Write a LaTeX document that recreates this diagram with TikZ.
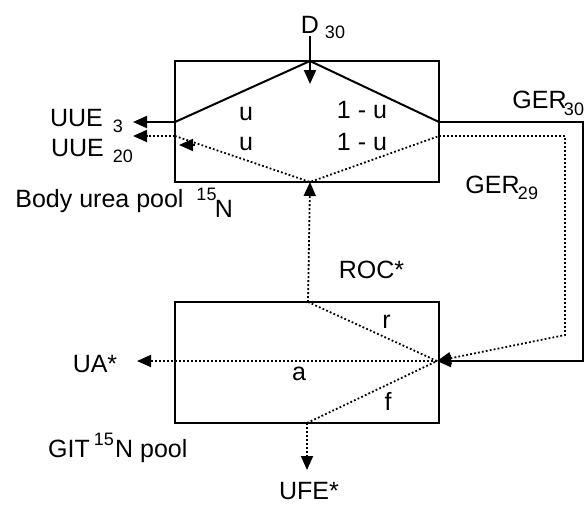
\documentclass[tikz,border=0pt]{standalone}
\usepackage{fontspec}
\setmainfont{Liberation Sans}
\usetikzlibrary{arrows.meta}
\begin{document}
\begin{tikzpicture}[x=1pt,y=-1pt,
  solidl/.style={line width=2pt},
  dotl/.style={line width=1.8pt, dash pattern=on 1.8pt off 2.2pt},
  tip/.style={-{Triangle[length=14pt,width=12pt]}},
  box/.style={draw, line width=2pt, inner sep=0pt, minimum width=264pt, minimum height=121pt},
  lbl/.style={inner sep=0pt, anchor=base, font=\fontsize{25}{25}\selectfont},
  sub/.style={inner sep=0pt, anchor=base, font=\fontsize{18}{18}\selectfont}]
\useasboundingbox (0,0) rectangle (588,506);
\fill[white] (0,0) rectangle (588,506);
% boxes
\node[box] (topbox) at (307,121.5) {};
\node[box] (botbox) at (307,362.5) {};
% coordinates
\coordinate (ta) at (310,61);
\coordinate (ls) at (175,122);
\coordinate (rs) at (439,122);
\coordinate (ld) at (175,136);
\coordinate (rd) at (439,136);
\coordinate (ba) at (310,182);
\coordinate (dstart) at (310,36);
\coordinate (dtip) at (310,84);
\coordinate (uue3) at (133,122);
\coordinate (uue20) at (133,136);
\coordinate (ia1) at (195,145);
\coordinate (ia2) at (179,145);
\coordinate (g30a) at (583,122);
\coordinate (g30b) at (583,361);
\coordinate (g29a) at (565,136);
\coordinate (g29b) at (565,335);
\coordinate (conv) at (437,361);
\coordinate (rtop) at (308,302);
\coordinate (fbot) at (307,423);
\coordinate (uatip) at (137,361);
\coordinate (ufetip) at (307,470);
% top pool
\draw[solidl] (ls) -- (ta) -- (rs);
\draw[solidl,tip] (dstart) -- (dtip);
\draw[solidl,tip] (ls) -- (uue3);
\draw[dotl] (ld) -- (ba) -- (rd);
\draw[dotl,tip] (ld) -- (uue20);
\draw[solidl,tip] (ia1) -- (ia2);
% GER loops
\draw[solidl,tip] (rs) -- (g30a) -- (g30b) -- (conv);
\draw[dotl,tip] (rd) -- (g29a) -- (g29b) -- (conv);
% bottom pool
\draw[dotl] (rtop) -- (conv) -- (fbot);
\draw[dotl,tip] (conv) -- (uatip);
\draw[dotl,tip] (fbot) -- (ufetip);
\draw[dotl,tip] (rtop) -- (ba);
% labels
\node[lbl] (dl) at (310,33) {D};
\node[sub] (dsub) at (335,38) {30};
\node[lbl] (u1) at (246,120) {u};
\node[lbl] (u2) at (246,150) {u};
\node[lbl] (om1) at (362,118) {1 - u};
\node[lbl] (om2) at (362,150) {1 - u};
\node[lbl] (uue3l) at (76.5,126) {UUE};
\node[sub] (uue3s) at (118,132) {3};
\node[lbl] (uue20l) at (77.5,156) {UUE};
\node[sub] (uue20s) at (123,162) {20};
\node[lbl] (body) at (99.5,207) {Body urea pool};
\node[sub] (bodys) at (206.5,200) {15};
\node[lbl] (bodyn) at (224,217) {N};
\node[lbl] (ger30) at (539.5,108) {GER};
\node[sub] (ger30s) at (574,115) {30};
\node[lbl] (ger29) at (492.5,193) {GER};
\node[sub] (ger29s) at (528,199) {29};
\node[lbl] (roc) at (371.5,278) {ROC*};
\node[lbl] (rl) at (386.5,328) {r};
\node[lbl] (al) at (299,380) {a};
\node[lbl] (fl) at (388,410) {f};
\node[lbl] (ua) at (95,372) {UA*};
\node[lbl] (git) at (69,457) {GIT};
\node[sub] (gits) at (104,445) {15};
\node[lbl,anchor=base west] (gitn) at (115,457) {N pool};
\node[lbl] (ufe) at (309,499) {UFE*};
\end{tikzpicture}
\end{document}
